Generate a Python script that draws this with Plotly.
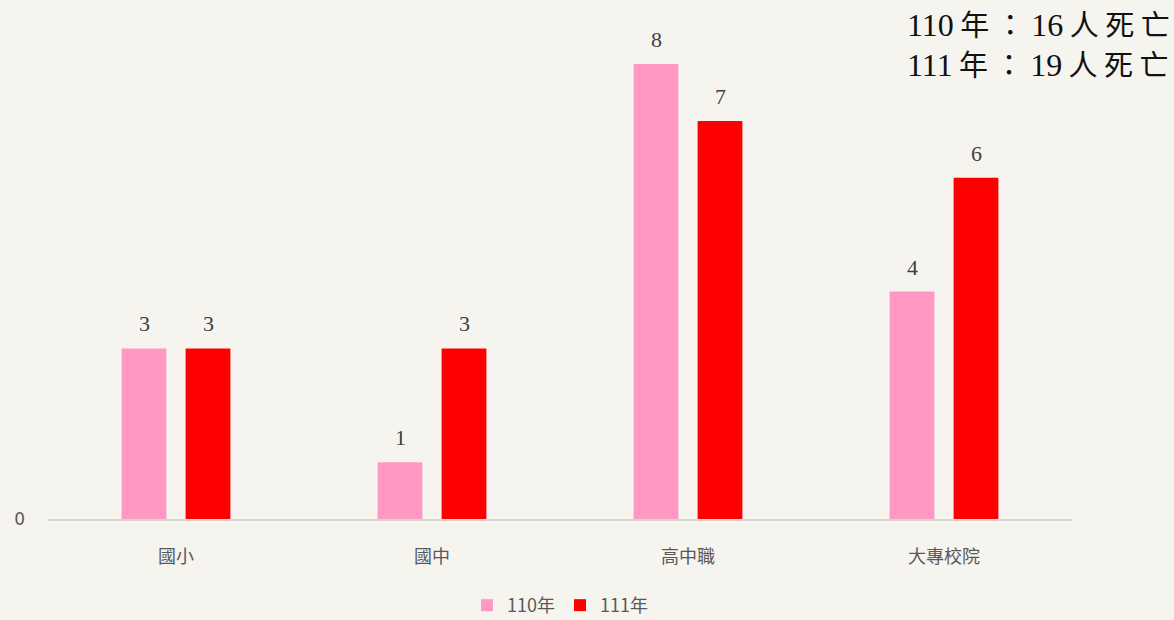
import plotly.graph_objects as go

# Deaths by school level, two years
categories = ["國小", "國中", "高中職", "大專校院"]
series_names = ["110年", "111年"]
deaths_110 = [3, 1, 8, 4]
deaths_111 = [3, 3, 7, 6]
totals = {"110年": 16, "111年": 19}

colors = ["#ff99c3", "#ff0000"]
label_font = dict(family="Liberation Serif, DejaVu Serif, serif", size=22, color="#404040")

fig = go.Figure()
for name, values, color in zip(series_names, [deaths_110, deaths_111], colors):
    fig.add_trace(go.Bar(
        x=categories, y=values, name=name,
        marker=dict(color=color, line=dict(width=0)),
    ))

# value labels sit a little above each bar
annotations = []
for values, shift in zip([deaths_110, deaths_111], [-32, 32]):
    for cat, v in zip(categories, values):
        annotations.append(dict(
            x=cat, y=v, xref="x", yref="y", text=str(v), showarrow=False,
            xshift=shift, yanchor="bottom", yshift=10, font=label_font,
        ))


def summary_line(year, count):
    num = '<span style="font-family:Liberation Serif, serif;font-size:32px">{}</span>'
    cjk = '<span style="font-family:Noto Sans CJK TC, sans-serif;font-size:29px">{}</span>'
    return (num.format(year[:-1]) + cjk.format(" " + year[-1] + " ： ")
            + num.format(count) + cjk.format(" 人 死 亡"))


summary = "<br>".join(summary_line(k, v) for k, v in totals.items())
annotations.append(dict(
    text=summary, xref="paper", yref="paper", x=0, y=1.0,
    xshift=857, yshift=64, xanchor="left", yanchor="top", align="left", showarrow=False,
    font=dict(family="Liberation Serif, Noto Sans CJK TC, serif", size=31, color="#111111"),
))

fig.update_layout(
    width=1174, height=620,
    margin=dict(l=48, r=102, t=64, b=101, autoexpand=False),
    paper_bgcolor="#f6f4ef", plot_bgcolor="rgba(0,0,0,0)",
    barmode="group", bargap=0.5, bargroupgap=0.3,
    font=dict(family="Noto Sans CJK TC, sans-serif", color="#595959"),
    showlegend=True,
    legend=dict(orientation="h", x=0.5, xanchor="center", y=-0.19, yanchor="middle",
                font=dict(size=18, color="#595959", family="Noto Sans CJK TC, sans-serif"),
                traceorder="normal", bgcolor="rgba(0,0,0,0)", itemwidth=30),
    xaxis=dict(showgrid=False, showline=True, linecolor="#d6d6d6", linewidth=2,
               ticks="", ticklabelstandoff=20, tickfont=dict(size=18, color="#595959")),
    yaxis=dict(range=[0, 8], showgrid=False, zeroline=False, showline=False,
               tickvals=[0], ticktext=["0"], ticks="", ticklabelstandoff=22,
               tickfont=dict(size=17, color="#595959", family="DejaVu Sans, sans-serif")),
    annotations=annotations,
)

fig.write_html("out.html")
